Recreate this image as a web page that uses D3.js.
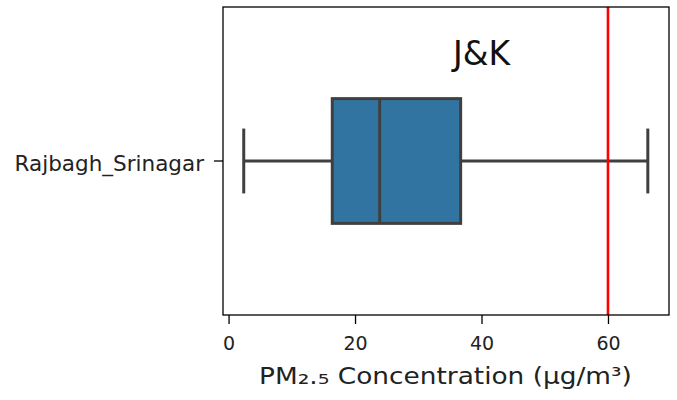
<!DOCTYPE html>
<html><head><meta charset="utf-8">
<script src="https://cdn.jsdelivr.net/npm/d3@7"></script>
<style>body{margin:0;background:#fff}svg{display:block}text{font-family:"DejaVu Sans",sans-serif}</style>
</head><body><svg id="c" width="677" height="400"></svg>
<script>
const categories = ["Rajbagh_Srinagar"];
const whiskerLow = [2.4];
const q1 = [16.4];
const median = [23.9];
const q3 = [36.7];
const whiskerHigh = [66.3];
const limitLine = 60;
const xTicks = [0, 20, 40, 60];
const title = "J&K";
const xLabelParts = ["PM", "\u2082", ".", "\u2085", " Concentration (\u03bcg/m\u00b3)"];

const svg = d3.select("#c");
const m = {l: 223, r: 669, t: 7, b: 315};
const x = d3.scaleLinear().domain([-0.88, 69.65]).range([m.l, m.r]);
const y = d3.scaleBand().domain(categories).range([m.t, m.b]).padding(0);
const bw = y.bandwidth();
const boxH = bw * 0.405;
const capH = boxH * 0.52;
const gray = "#3f3f3f";

const g = svg.append("g");
categories.forEach((c, i) => {
  const cy = y(c) + bw / 2;
  g.append("line").attr("x1", x(whiskerLow[i])).attr("x2", x(q1[i])).attr("y1", cy).attr("y2", cy)
    .attr("stroke", gray).attr("stroke-width", 3);
  g.append("line").attr("x1", x(q3[i])).attr("x2", x(whiskerHigh[i])).attr("y1", cy).attr("y2", cy)
    .attr("stroke", gray).attr("stroke-width", 3);
  [whiskerLow[i], whiskerHigh[i]].forEach(v => {
    g.append("line").attr("x1", x(v)).attr("x2", x(v)).attr("y1", cy - capH / 2).attr("y2", cy + capH / 2)
      .attr("stroke", gray).attr("stroke-width", 3);
  });
  g.append("rect").attr("x", x(q1[i])).attr("y", cy - boxH / 2).attr("width", x(q3[i]) - x(q1[i])).attr("height", boxH)
    .attr("fill", "#3274a1").attr("stroke", gray).attr("stroke-width", 3);
  g.append("line").attr("x1", x(median[i])).attr("x2", x(median[i])).attr("y1", cy - boxH / 2).attr("y2", cy + boxH / 2)
    .attr("stroke", gray).attr("stroke-width", 3);
});

svg.append("line").attr("x1", x(limitLine)).attr("x2", x(limitLine)).attr("y1", m.t).attr("y2", m.b)
  .attr("stroke", "#ff0000").attr("stroke-width", 2.6);

svg.append("text").attr("x", x(40)).attr("y", 65).attr("text-anchor", "middle")
  .attr("font-size", 33).attr("fill", "#111").text(title);

// spines
svg.append("rect").attr("x", m.l).attr("y", m.t).attr("width", m.r - m.l).attr("height", m.b - m.t)
  .attr("fill", "none").attr("stroke", "#000").attr("stroke-width", 1.3);

const xa = svg.append("g").attr("transform", `translate(0,${m.b})`)
  .call(d3.axisBottom(x).tickValues(xTicks).tickSize(9).tickPadding(13).tickFormat(d3.format("d")));
xa.select(".domain").remove();
xa.selectAll("line").attr("stroke", "#000").attr("stroke-width", 1.3);
xa.selectAll("text").attr("font-size", 19).attr("fill", "#222").style("font-family", "DejaVu Sans");

const ya = svg.append("g").attr("transform", `translate(${m.l},0)`)
  .call(d3.axisLeft(y).tickSize(9).tickPadding(10));
ya.select(".domain").remove();
ya.selectAll("line").attr("stroke", "#000").attr("stroke-width", 1.3);
ya.selectAll("text").attr("font-size", 21.5).attr("dy", "0.45em").attr("fill", "#222").style("font-family", "DejaVu Sans");

const xl = svg.append("text").attr("x", 0).attr("y", 0).attr("text-anchor", "start")
  .attr("font-size", 23.5).attr("fill", "#222");
xl.append("tspan").text(xLabelParts[0]);
xl.append("tspan").attr("font-size", 26).text(xLabelParts[1]);
xl.append("tspan").text(xLabelParts[2]);
xl.append("tspan").attr("font-size", 26).text(xLabelParts[3]);
xl.append("tspan").text(xLabelParts[4]);
const bb = xl.node().getBBox();
const sx = 373 / bb.width;
xl.attr("transform", `translate(259,384) scale(${sx},1) translate(${-bb.x},0)`);
</script></body></html>
